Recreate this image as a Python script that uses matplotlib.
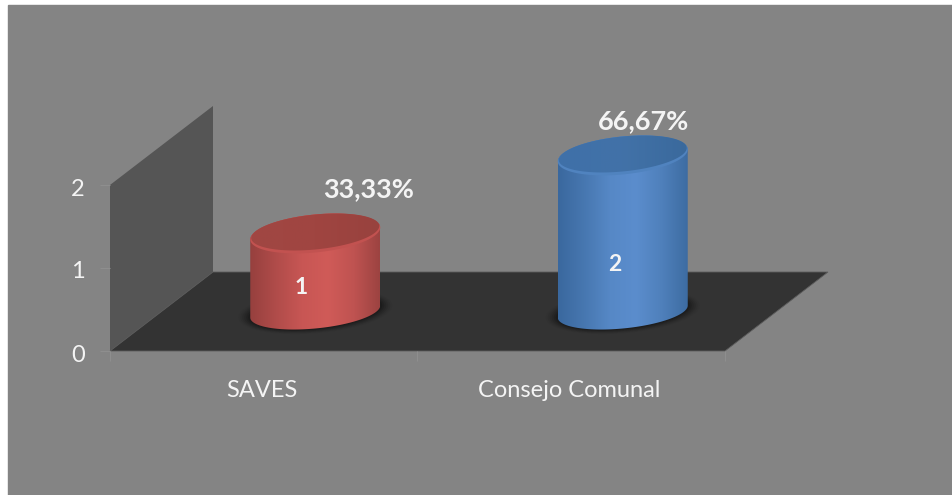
import numpy as np
import matplotlib
matplotlib.use("Agg")
import matplotlib.pyplot as plt
from matplotlib.colors import LinearSegmentedColormap
from matplotlib.patches import Polygon, Rectangle
from matplotlib.transforms import ScaledTranslation

# Data
categories = ["SAVES", "Consejo Comunal"]
values = [1, 2]
percent_labels = ["33,33%", "66,67%"]
y_ticks = [0, 1, 2]

# Style of each bar
body_colors = [
    ["#96403e", "#b04c4a", "#c85654", "#d05b58", "#bf5351", "#9c4341"],
    ["#3a689e", "#4777b0", "#5688c6", "#5b8dcd", "#4f80bb", "#3d6ca2"],
]
top_colors = [["#a04743", "#a04541", "#98423e"], ["#3f70a8", "#4272a8", "#3a699c"]]
rim_colors = ["#c25250", "#5083bf"]
# label offsets in pixels from the top of the bar
percent_offset = [(53, 44), (21, 34)]
inner_offset = [(-14, -54), (-8, -109)]

BG = "#848484"
WALL = "#555555"
FLOOR = "#333333"
TEXT = "#f4f4f4"

W, H = 953, 495
fig = plt.figure(figsize=(W / 100, H / 100), dpi=100, facecolor="white")
fig.patches.append(Rectangle((8 / W, 0), 1, 1 - 5 / H, transform=fig.transFigure, color=BG, zorder=-10))

plt.rcParams["font.family"] = ["Lato", "DejaVu Sans"]

# the axes is the front plane of the 3D box
ax = fig.add_axes([110 / W, (H - 351) / H, 615 / W, 166 / H])
ax.patch.set_visible(False)

# size of one pixel in data units
PX = 2 / 615
PY = 2 / 166
DEPTH_X = 103 * PX
DEPTH_Y = 79 * PY


def project(x, y, d):
    # d = 0 front of the box, d = 1 back of the box
    return x + d * DEPTH_X, y + d * DEPTH_Y


def ellipse(cx, cy, a, b, tilt, t):
    # sheared ellipse, a and b in pixels, cx and cy in data units
    xs = cx + a * np.cos(t) * PX
    ys = cy + (b * np.sin(t) + tilt * np.cos(t)) * PY
    return np.column_stack([xs, ys])


def gradient(colors, box, clip, z):
    cmap = LinearSegmentedColormap.from_list("g", colors)
    im = ax.imshow(np.linspace(0, 1, 256)[None, :], extent=box, cmap=cmap, aspect="auto", zorder=z)
    patch = Polygon(clip, closed=True, transform=ax.transData, fc="none", ec="none")
    ax.add_patch(patch)
    im.set_clip_path(patch)
    im.set_clip_box(fig.bbox)
    patch.set_clip_on(False)


# wall and floor
wall = [project(0, 0, 0), project(0, 2, 0), project(0, 2, 1), project(0, 0, 1)]
floor = [project(0, 0, 0), project(2, 0, 0), project(2, 0, 1), project(0, 0, 1)]
ax.add_patch(Polygon(wall, closed=True, fc=WALL, ec="none", clip_on=False, zorder=1))
ax.add_patch(Polygon(floor, closed=True, fc=FLOOR, ec="#5c5c5c", lw=0.6, clip_on=False, zorder=1))

# cylinders
A, B_BOTTOM, B_TOP, TILT = 65, 17, 19, 6
t_all = np.linspace(0, 2 * np.pi, 200)
for i, value in enumerate(values):
    cx, y0 = project(i + 0.5, 0, 0.5)
    y1 = y0 + value * 0.94

    # soft shadow on the floor
    for grow, alpha in zip(range(12, 0, -2), [0.03, 0.05, 0.07, 0.09, 0.11, 0.13]):
        pts = ellipse(cx, y0, A + grow, B_BOTTOM + grow * 0.4, TILT, t_all)
        ax.add_patch(Polygon(pts, closed=True, fc="black", ec="none", alpha=alpha, clip_on=False, zorder=2))

    bottom = ellipse(cx, y0, A, B_BOTTOM, TILT, np.linspace(np.pi, 2 * np.pi, 100))
    upper = ellipse(cx, y1, A, B_TOP, TILT, np.linspace(0, np.pi, 100))
    body = np.vstack([bottom, upper])
    box = (cx - A * PX, cx + A * PX, y0 - 30 * PY, y1 + 30 * PY)
    gradient(body_colors[i], box, body, 3)

    # top face with a lighter rim along its front edge
    ax.add_patch(Polygon(ellipse(cx, y1, A, B_TOP, TILT, t_all), closed=True, fc=rim_colors[i], ec="none",
                         clip_on=False, zorder=4))
    face = ellipse(cx, y1 + 1.5 * PY, A - 1, B_TOP - 1.5, TILT, t_all)
    gradient(top_colors[i], box, face, 5)

    # labels
    ax.annotate(percent_labels[i], (cx, y1), xytext=percent_offset[i], textcoords="offset pixels",
                ha="center", va="center", color=TEXT, fontsize=19.5, fontweight="bold", zorder=6, annotation_clip=False)
    ax.annotate(str(value), (cx, y1), xytext=inner_offset[i], textcoords="offset pixels",
                ha="center", va="center", color=TEXT, fontsize=16.5,
                fontweight="bold", zorder=6, annotation_clip=False)

ax.set_xlim(0, 2)
ax.set_ylim(0, 2)

for s in ax.spines.values():
    s.set_visible(False)

ax.set_yticks(y_ticks)
ax.set_yticklabels([str(v) for v in y_ticks], color=TEXT, fontsize=17)
ax.tick_params(axis="y", length=7, color="#8e8e8e", width=0.8, pad=11)
ax.set_xticks([i + 0.5 for i in range(len(categories))])
ax.set_xticklabels(categories, color=TEXT, fontsize=17)
ax.tick_params(axis="x", which="major", length=0, pad=21)
ax.set_xticks([0, 1, 2], minor=True)
ax.tick_params(axis="x", which="minor", length=7, color="#8e8e8e", width=0.8)

# small nudge of the tick labels, in inches
for label in ax.get_yticklabels():
    label.set_transform(label.get_transform() + ScaledTranslation(0, -0.02, fig.dpi_scale_trans))
for label in ax.get_xticklabels():
    label.set_transform(label.get_transform() + ScaledTranslation(-0.02, 0, fig.dpi_scale_trans))

fig.savefig("out.png", dpi=100, facecolor=fig.get_facecolor())
